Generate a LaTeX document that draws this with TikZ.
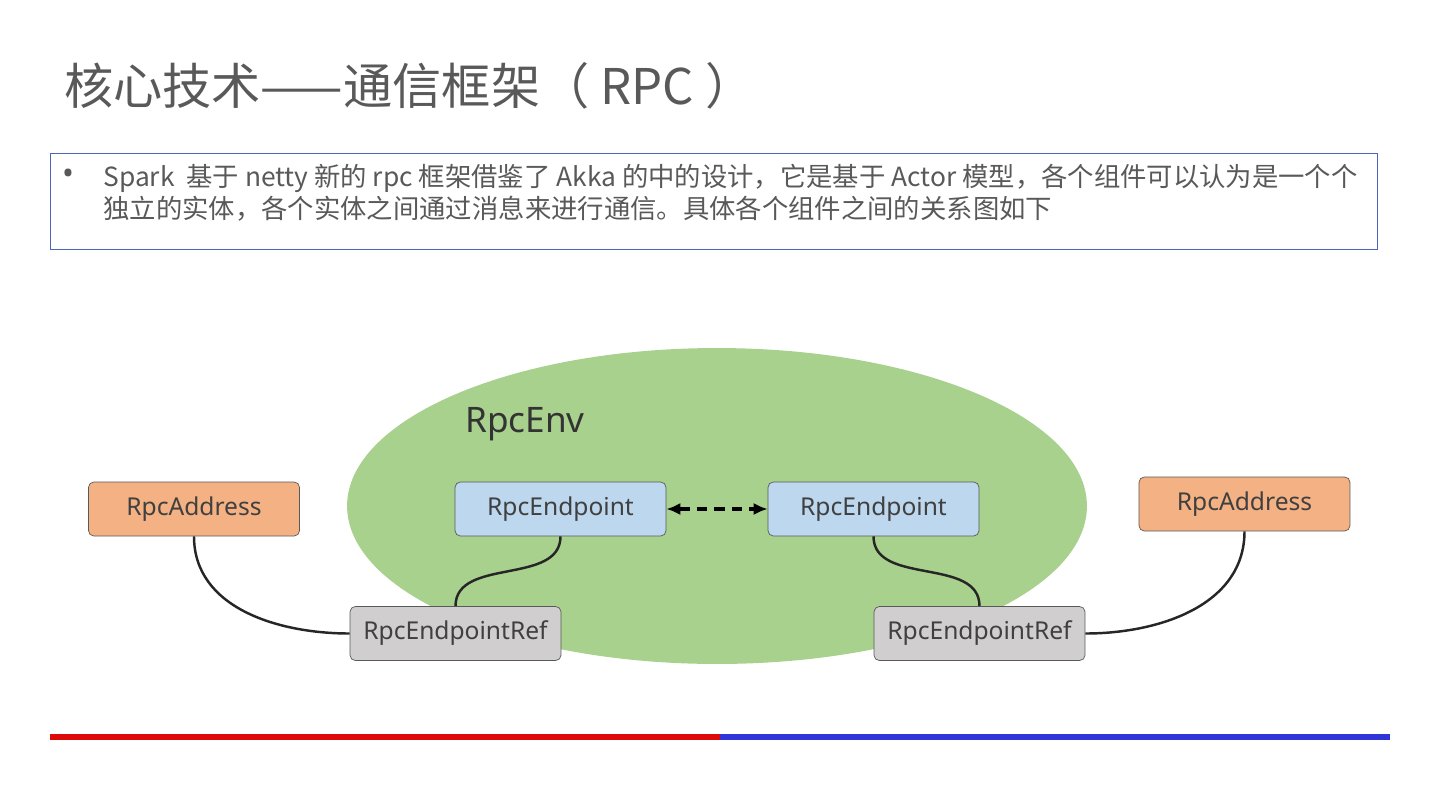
\documentclass[tikz,border=0pt]{standalone}
\usepackage{fontspec}
\setmainfont{Noto Sans}
\newfontfamily\cjk{Noto Sans CJK SC}
\usetikzlibrary{arrows.meta}
\definecolor{gristexto}{HTML}{595959}
\definecolor{verdeenv}{HTML}{A9D18E}
\definecolor{azulep}{HTML}{BDD7EE}
\definecolor{naranja}{HTML}{F4B183}
\definecolor{grisref}{HTML}{D0CECE}
\definecolor{azulmarco}{HTML}{4A64C0}
\definecolor{rojobarra}{HTML}{DD0A0A}
\definecolor{azulbarra}{HTML}{2F35D8}
\tikzset{
  caja/.style={draw=black!65, rounded corners=3pt, minimum width=4.22cm,
    minimum height=1.08cm, text=black!75, font=\fontsize{14}{16}\selectfont},
  enlace/.style={line width=1.4pt, black!85}
}
\begin{document}
\begin{tikzpicture}[x=0.02cm,y=-0.02cm]
        \useasboundingbox (0,0) rectangle (1440,809);
        % Titulo
        \node[anchor=west, text=gristexto, font=\cjk\fontsize{28}{34}\selectfont] (titulo) at (58,86) {核心技术——通信框架（ RPC ）};
        % Cuadro de texto
        \draw[azulmarco, line width=0.5pt] (50,153) rectangle (1377,249);
        \node[text=gristexto, font=\fontsize{18}{20}\selectfont] (vineta) at (68,177) {•};
        \node[anchor=north west, align=left, inner sep=0pt, text=gristexto, font=\cjk\fontsize{15}{18.2}\selectfont] (parrafo) at (103,164)
          {Spark\ \ 基于 netty 新的 rpc 框架借鉴了 Akka 的中的设计，它是基于 Actor 模型，各个组件可以认为是一个个\\独立的实体，各个实体之间通过消息来进行通信。具体各个组件之间的关系图如下};
        % RpcEnv
        \fill[verdeenv] (717,506) ellipse [x radius=7.4cm, y radius=3.16cm];
        \node[text=black!80, font=\fontsize{20}{24}\selectfont] (env) at (525,424) {RpcEnv};
        % Componentes
        \node[caja, fill=naranja] (dirIzq) at (194,509) {RpcAddress};
        \node[caja, fill=azulep] (epIzq) at (560.5,509) {RpcEndpoint};
        \node[caja, fill=azulep] (epDer) at (873.5,509) {RpcEndpoint};
        \node[caja, fill=naranja] (dirDer) at (1244.5,504) {RpcAddress};
        \node[caja, fill=grisref] (refIzq) at (455.5,633.5) {RpcEndpointRef};
        \node[caja, fill=grisref] (refDer) at (979.5,633.5) {RpcEndpointRef};
        % Conexiones
        \draw[enlace] (dirIzq.south) to[out=-90, in=180] (refIzq.west);
        \draw[enlace] (epIzq.south) to[out=-90, in=90] (refIzq.north);
        \draw[enlace] (epDer.south) to[out=-90, in=90] (refDer.north);
        \draw[enlace] (refDer.east) to[out=0, in=-90] (dirDer.south);
        \draw[{Latex[length=8pt,width=7pt]}-{Latex[length=8pt,width=7pt]}, line width=1.8pt, dash pattern=on 6pt off 4pt] (epIzq) -- (epDer);
        % Barras inferiores
        \draw[rojobarra, line width=0.12cm] (50,737) -- (720,737);
        \draw[azulbarra, line width=0.12cm] (720,737) -- (1390,737);
\end{tikzpicture}
\end{document}
